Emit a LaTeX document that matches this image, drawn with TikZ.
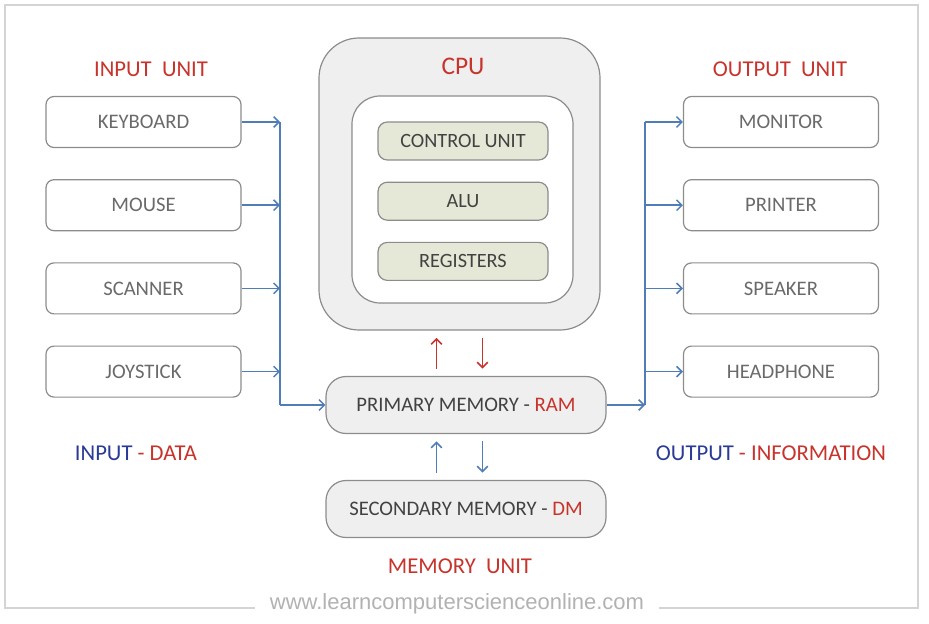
\documentclass[tikz,border=0pt]{standalone}
\usepackage{fontspec}
\setmainfont{Carlito}
\newfontfamily\wmfont{Liberation Sans}
\usepackage{tikz}
\usetikzlibrary{positioning,arrows.meta}

\definecolor{boxline}{HTML}{8C8C8C}
\definecolor{boxtext}{HTML}{6A6A6A}
\definecolor{darktext}{HTML}{424242}
\definecolor{unitred}{HTML}{C8332B}
\definecolor{flowblue}{HTML}{4F7DB8}
\definecolor{textblue}{HTML}{2B3A96}
\definecolor{cpugray}{HTML}{EFEFEF}
\definecolor{partfill}{HTML}{E5E8D6}
\definecolor{framegray}{HTML}{D4D4D4}

\begin{document}
\begin{tikzpicture}[
    x=0.75pt, y=-0.75pt,
    node distance=23.25pt,
    >={Straight Barb[length=4pt, width=8pt]},
    device/.style={rectangle, draw=boxline, line width=0.9pt, rounded corners=6pt, minimum width=146.25pt, minimum height=38.25pt, text=boxtext, font=\fontsize{15.5}{17}\selectfont},
    part/.style={rectangle, draw=boxline, line width=0.9pt, fill=partfill, rounded corners=7pt, minimum width=127.5pt, minimum height=28.5pt, text=darktext, font=\fontsize{15.2}{17}\selectfont},
    memory/.style={rectangle, draw=boxline, line width=0.9pt, fill=cpugray, rounded corners=15pt, minimum width=210pt, minimum height=42.75pt, text=darktext, font=\fontsize{15.5}{17}\selectfont},
    unitlabel/.style={text=unitred, font=\fontsize{17}{19}\selectfont},
    busline/.style={draw=flowblue, line width=1.1pt},
    busarrow/.style={busline, ->},
    ramarrow/.style={draw=unitred, line width=1.1pt, ->, shorten <=5.5pt, shorten >=5.5pt},
    diskarrow/.style={draw=flowblue, line width=1.1pt, ->, shorten <=5.5pt, shorten >=5.5pt},
]
\useasboundingbox (0,0) rectangle (929,624);

% Frame
\draw[framegray, line width=0.9pt] (5,5) rectangle (918,608);

% Input unit
\node[unitlabel] (inlabel) at (151,69) {INPUT\ \ UNIT};
\node[device] (keyboard) at (143.5,122) {KEYBOARD};
\node[device, below=of keyboard] (mouse) {MOUSE};
\node[device, below=of mouse] (scanner) {SCANNER};
\node[device, below=of scanner] (joystick) {JOYSTICK};

% Output unit
\node[unitlabel] (outlabel) at (780,69) {OUTPUT\ \ UNIT};
\node[device] (monitor) at (781,122) {MONITOR};
\node[device, below=of monitor] (printer) {PRINTER};
\node[device, below=of printer] (speaker) {SPEAKER};
\node[device, below=of speaker] (headphone) {HEADPHONE};

% CPU
\node[rectangle, draw=boxline, line width=0.9pt, fill=cpugray, rounded corners=30pt, minimum width=210.75pt, minimum height=219pt] (cpu) at (459.5,184) {};
\node[rectangle, draw=boxline, line width=0.9pt, fill=white, rounded corners=21pt, minimum width=165.75pt, minimum height=155.25pt] (core) at (462.5,199.5) {};
\node[text=unitred, font=\fontsize{19}{21}\selectfont] (cpulabel) at (463,66) {CPU};
\node[part] (control) at (463,141) {CONTROL UNIT};
\node[part, below=15.75pt of control] (alu) {ALU};
\node[part, below=15.75pt of alu] (registers) {REGISTERS};

% Memory unit
\node[memory] (ram) at (466,405) {PRIMARY MEMORY - \textcolor{unitred}{RAM}};
\node[memory] (disk) at (466,509) {SECONDARY MEMORY - \textcolor{unitred}{DM}};
\node[unitlabel] (memlabel) at (460,566) {MEMORY\ \ UNIT};

% Data and information
\node[font=\fontsize{17}{19}\selectfont] (indata) at (136,453) {\textcolor{textblue}{INPUT} \textcolor{unitred}{- DATA}};
\node[font=\fontsize{17}{19}\selectfont] (outinfo) at (771,453) {\textcolor{textblue}{OUTPUT} \textcolor{unitred}{- INFORMATION}};

% Input bus
\coordinate (inbus) at (280,0);
\foreach \dev in {keyboard, mouse, scanner, joystick}
    \draw[busarrow] (\dev.east) -- (\dev.east -| inbus);
\draw[busline] (keyboard.east -| inbus) -- (ram.west -| inbus);
\draw[busarrow] (ram.west -| inbus) -- (ram.west);

% Output bus
\coordinate (outbus) at (645,0);
\draw[busarrow] (ram.east) -- (ram.east -| outbus);
\draw[busline] (ram.east -| outbus) -- (monitor.west -| outbus);
\foreach \dev in {monitor, printer, speaker, headphone}
    \draw[busarrow] (\dev.west -| outbus) -- (\dev.west);

% CPU and memory transfers
\draw[ramarrow] ([xshift=-17.25pt]cpu.south |- ram.north) -- ([xshift=-17.25pt]cpu.south);
\draw[ramarrow] ([xshift=17.25pt]cpu.south) -- ([xshift=17.25pt]cpu.south |- ram.north);
\draw[diskarrow] ([xshift=-17.25pt]cpu.south |- disk.north) -- ([xshift=-17.25pt]cpu.south |- ram.south);
\draw[diskarrow] ([xshift=17.25pt]cpu.south |- ram.south) -- ([xshift=17.25pt]cpu.south |- disk.north);

% Watermark
\node[fill=white, inner xsep=11pt, text=black!30, font=\wmfont\fontsize{16.5}{18}\selectfont] (site) at (457,604) {www.learncomputerscienceonline.com};

\end{tikzpicture}
\end{document}
